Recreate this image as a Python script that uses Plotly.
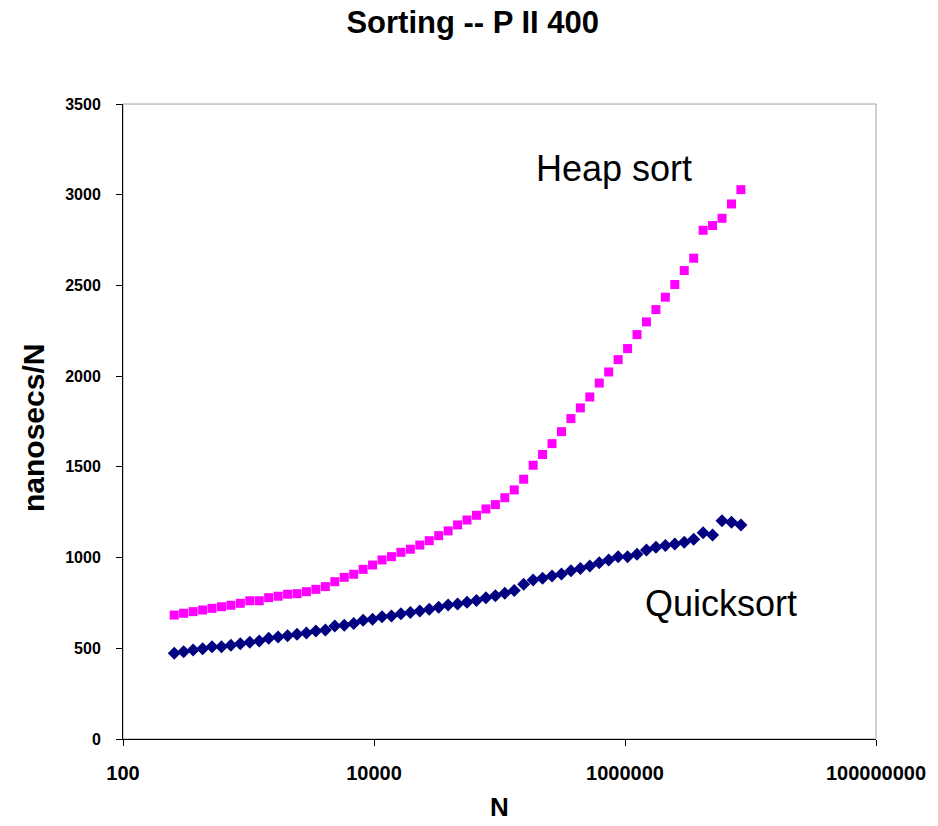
import plotly.graph_objects as go

n_values = [256, 304, 362, 431, 512, 609, 724, 861,
            1024, 1218, 1448, 1722, 2048, 2436, 2896, 3444,
            4096, 4871, 5793, 6889, 8192, 9742, 11585, 13777,
            16384, 19484, 23170, 27554, 32768, 38968, 46341, 55109,
            65536, 77936, 92682, 110218, 131072, 155872, 185364, 220436,
            262144, 311745, 370728, 440871, 524288, 623489, 741455, 881742,
            1048576, 1246979, 1482910, 1763484, 2097152, 2493958, 2965821, 3526969,
            4194304, 4987916, 5931642, 7053937, 8388608]

heap_sort = [683, 693, 702, 711, 720, 729, 737, 748, 762, 762,
             779, 787, 798, 801, 812, 825, 840, 867, 891, 908,
             935, 959, 987, 1005, 1029, 1046, 1069, 1093, 1121, 1147,
             1180, 1207, 1233, 1268, 1292, 1330, 1373, 1432, 1509, 1568,
             1628, 1694, 1766, 1825, 1885, 1962, 2023, 2091, 2152, 2229,
             2299, 2367, 2435, 2505, 2582, 2650, 2804, 2830, 2870, 2949,
             3028]

quicksort = [472, 481, 491, 498, 509, 509, 517, 525, 533, 540,
             555, 562, 569, 577, 584, 595, 601, 623, 627, 636,
             654, 660, 674, 678, 690, 697, 705, 715, 726, 739,
             744, 754, 764, 778, 790, 803, 818, 853, 877, 886,
             899, 910, 928, 940, 954, 972, 987, 1005, 1005, 1018,
             1042, 1057, 1066, 1075, 1084, 1101, 1137, 1125, 1203, 1194,
             1180]

x_tickvals = [100, 10000, 1000000, 100000000]
x_ticktext = ["100", "10000", "1000000", "100000000"]
y_tickvals = [0, 500, 1000, 1500, 2000, 2500, 3000, 3500]

NARROW = "Liberation Sans Narrow, Arial Narrow, Liberation Sans, Arial, sans-serif"
SANS = "Liberation Sans, Arial, sans-serif"

fig = go.Figure()
fig.add_trace(go.Scatter(
    x=n_values, y=heap_sort, mode="markers", name="Heap sort",
    marker=dict(symbol="square", size=9, color="#FF00FF"),
))
fig.add_trace(go.Scatter(
    x=n_values, y=quicksort, mode="markers", name="Quicksort",
    marker=dict(symbol="diamond", size=10, color="#000080"),
))

fig.add_shape(type="rect", xref="paper", yref="paper", x0=0, y0=0, x1=1, y1=1,
              line=dict(color="#A0A0A0", width=1), layer="below")

# series labels
fig.add_annotation(x=0.6521, y=0.899, xref="paper", yref="paper",
                   xanchor="center", yanchor="middle",
                   text="Heap sort", showarrow=False,
                   font=dict(family=SANS, size=36, color="black"))
fig.add_annotation(x=0.7935, y=0.214, xref="paper", yref="paper",
                   xanchor="center", yanchor="middle",
                   text="Quicksort", showarrow=False,
                   font=dict(family=SANS, size=36, color="black"))

# axis titles
fig.add_annotation(x=-0.118, y=0.49, xref="paper", yref="paper",
                   xanchor="center", yanchor="middle", textangle=-90,
                   text="<b>nanosecs/N</b>", showarrow=False,
                   font=dict(family=NARROW, size=30, color="black"))
fig.add_annotation(x=0.5, y=-0.107, xref="paper", yref="paper",
                   xanchor="center", yanchor="middle",
                   text="<b>N</b>", showarrow=False,
                   font=dict(family=NARROW, size=26, color="black"))

fig.update_layout(
    width=938, height=826,
    margin=dict(l=123, r=62, t=104, b=87),
    paper_bgcolor="white", plot_bgcolor="white",
    showlegend=False,
    title=dict(text="<b>Sorting -- P II 400</b>", x=0.504, xanchor="center",
               y=0.973, yanchor="middle",
               font=dict(family=NARROW, size=31, color="black")),
    xaxis=dict(type="log", range=[2, 8], tickvals=x_tickvals, ticktext=x_ticktext,
               automargin=False,
               showgrid=False, zeroline=False, showline=True, linecolor="black",
               linewidth=1, ticks="outside", ticklen=6, tickcolor="black",
               ticklabelstandoff=10,
               tickfont=dict(family=NARROW, size=20, color="black", weight="bold")),
    yaxis=dict(range=[0, 3500], tickvals=y_tickvals, automargin=False,
               showgrid=False, zeroline=False, showline=True, linecolor="black",
               linewidth=1, ticks="outside", ticklen=6, tickcolor="black",
               ticklabelstandoff=12,
               tickfont=dict(family=SANS, size=16, color="black", weight="bold")),
)

fig.write_html("out.html")
